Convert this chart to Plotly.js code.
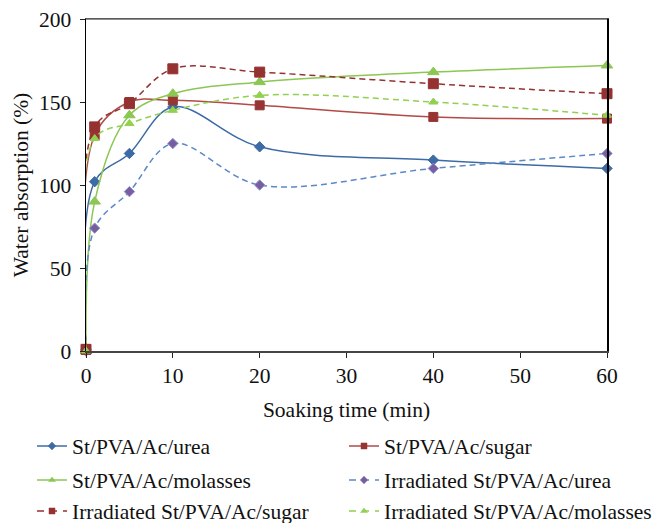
<!DOCTYPE html>
<html>
<head>
<meta charset="utf-8">
<script src="https://cdn.plot.ly/plotly-3.0.1.min.js"></script>
<style>
  html, body { margin: 0; padding: 0; background: #ffffff; }
  #chart { width: 652px; height: 523px; }
</style>
</head>
<body>
<div id="chart"></div>
<script>
// Soaking time (min)
const soakingTime = [0, 1, 5, 10, 20, 40, 60];

// Water absorption (%) per formulation
const ureaValues         = [1, 102, 119, 147, 123, 115, 110];
const sugarValues        = [1, 130, 150, 151, 148, 141, 140];
const molassesValues     = [0, 90, 142, 155, 162, 168, 172];
const irrUreaValues      = [0, 74, 96, 125, 100, 110, 119];
const irrSugarValues     = [1, 135, 149, 170, 168, 161, 155];
const irrMolassesValues  = [0, 128, 137, 145, 154, 150, 142];

const seriesNames = [
  'St/PVA/Ac/urea',
  'St/PVA/Ac/sugar',
  'St/PVA/Ac/molasses',
  'Irradiated St/PVA/Ac/urea',
  'Irradiated St/PVA/Ac/sugar',
  'Irradiated St/PVA/Ac/molasses'
];

const xTickVals = [0, 10, 20, 30, 40, 50, 60];
const yTickVals = [0, 50, 100, 150, 200];

const FONT = '"Liberation Serif", "Times New Roman", serif';
const FS = 21.5;

// visual style per series
const styles = [
  { line: '#3d6ba6', dash: 'solid',   symbol: 'diamond',     mColor: '#3d6ba6', mLine: '#3d6ba6', size: 8  },
  { line: '#b24a48', dash: 'solid',   symbol: 'square',      mColor: '#973533', mLine: '#973533', size: 9  },
  { line: '#8cc653', dash: 'solid',   symbol: 'triangle-up', mColor: '#8cc653', mLine: '#8cc653', size: 10 },
  { line: '#5a88c8', dash: '6px,4px', symbol: 'diamond',     mColor: '#7a5da0', mLine: '#8a9ad0', size: 8  },
  { line: '#953231', dash: '6px,4px', symbol: 'square',      mColor: '#953231', mLine: '#953231', size: 10 },
  { line: '#92d050', dash: '6px,4px', symbol: 'triangle-up', mColor: '#92d050', mLine: '#92d050', size: 8  }
];

const valuesList = [ureaValues, sugarValues, molassesValues, irrUreaValues, irrSugarValues, irrMolassesValues];
const legendIds = ['legend', 'legend2', 'legend3', 'legend4', 'legend5', 'legend6'];

const traces = [];
valuesList.forEach((vals, i) => {
  const s = styles[i];
  traces.push({
    type: 'scatter',
    mode: 'lines+markers',
    x: soakingTime,
    y: vals,
    name: seriesNames[i],
    showlegend: false,
    cliponaxis: false,
    line: { color: s.line, width: 1.5, dash: s.dash, shape: 'spline', smoothing: 1 },
    marker: { symbol: s.symbol, size: s.size, color: s.mColor, line: { color: s.mLine, width: 1 } }
  });
});

// legend keys with small markers, one legend box per entry
valuesList.forEach((vals, i) => {
  const s = styles[i];
  traces.push({
    type: 'scatter',
    mode: 'lines+markers',
    x: [null],
    y: [null],
    name: seriesNames[i],
    legend: legendIds[i],
    showlegend: true,
    line: { color: s.line, width: 1.5, dash: s.dash === 'solid' ? 'solid' : '7px,6px' },
    marker: { symbol: s.symbol, size: 6, color: s.mColor, line: { color: s.mLine, width: 0.5 } }
  });
});

const plotTop = 19, plotBottom = 351, plotH = plotBottom - plotTop;
const plotLeft = 86, plotRight = 607, plotW = plotRight - plotLeft;
const pyToPaper = px => (plotBottom - px) / plotH;
const pxToPaper = px => (px - plotLeft) / plotW;

const rowsPx = [446, 480, 511];
const colsPx = [32, 344];

const layout = {
  width: 652,
  height: 523,
  paper_bgcolor: '#ffffff',
  plot_bgcolor: '#ffffff',
  margin: { l: plotLeft, r: 652 - plotRight, t: plotTop, b: 523 - plotBottom, pad: 0, autoexpand: false },
  font: { family: FONT, size: FS, color: '#111' },
  xaxis: {
    range: [0, 60],
    tickvals: xTickVals,
    ticktext: xTickVals.map(String),
    showgrid: false,
    zeroline: false,
    showline: true,
    linecolor: '#444',
    linewidth: 1.5,
    mirror: true,
    ticks: 'outside',
    ticklen: 5,
    tickwidth: 1,
    tickcolor: '#222',
    tickfont: { family: FONT, size: FS, color: '#111' },
    title: { text: 'Soaking time (min)', font: { family: FONT, size: FS, color: '#111' }, standoff: 14 },
    automargin: false
  },
  yaxis: {
    range: [0, 200],
    tickvals: yTickVals,
    ticktext: yTickVals.map(String),
    showgrid: false,
    zeroline: false,
    showline: true,
    linecolor: '#000',
    linewidth: 1.5,
    mirror: true,
    ticks: 'outside',
    ticklen: 5,
    tickwidth: 1,
    tickcolor: '#222',
    ticklabelstandoff: 4,
    tickfont: { family: FONT, size: FS, color: '#111' },
    title: { text: 'Water absorption (%)', font: { family: FONT, size: FS, color: '#111' }, standoff: 4 },
    automargin: false
  },
  shapes: [
    // lighter top border of the plot box
    { type: 'line', xref: 'paper', yref: 'paper', x0: 0, x1: 1, y0: 1, y1: 1, line: { color: '#666', width: 1.5 } }
  ]
};

legendIds.forEach((id, i) => {
  layout[id] = {
    orientation: 'h',
    xanchor: 'left',
    yanchor: 'middle',
    x: pxToPaper(colsPx[i % 2]),
    y: pyToPaper(rowsPx[Math.floor(i / 2)]),
    font: { family: FONT, size: FS, color: '#111' },
    bgcolor: 'rgba(0,0,0,0)',
    borderwidth: 0
  };
});

Plotly.newPlot('chart', traces, layout, { displayModeBar: false, staticPlot: true });
</script>
</body>
</html>
